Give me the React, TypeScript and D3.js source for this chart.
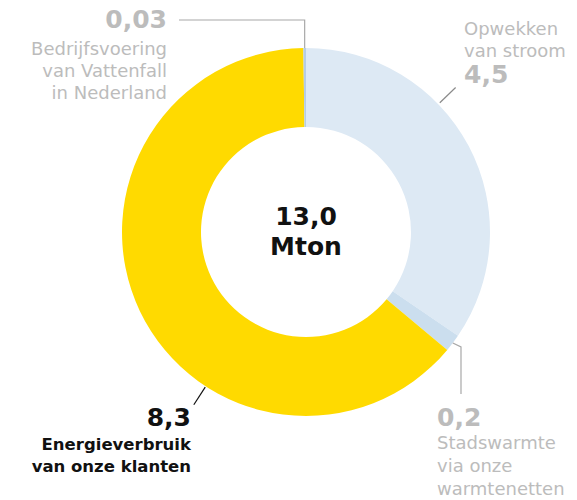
import { useRef, useEffect } from "react";
import * as d3 from "d3";

const WIDTH = 577;
const HEIGHT = 500;
const CX = 306;
const CY = 232;
const OUTER = 184;
const INNER = 105;

// data, clockwise from 12 o'clock
const categories = ["Opwekken van stroom", "Stadswarmte via onze warmtenetten", "Energieverbruik van onze klanten", "Bedrijfsvoering van Vattenfall in Nederland"];
const values = [4.5, 0.2, 8.3, 0.03];
const valueLabels = ["4,5", "0,2", "8,3", "0,03"];
const labelLines = [
  ["Opwekken", "van stroom"],
  ["Stadswarmte", "via onze", "warmtenetten"],
  ["Energieverbruik", "van onze klanten"],
  ["Bedrijfsvoering", "van Vattenfall", "in Nederland"],
];
const totalLabel = ["13,0", "Mton"];
const colors = ["#dde9f4", "#cbdeee", "#ffda00", "#b5cde4"];

const FONT = "'DejaVu Sans', sans-serif";
const GREY = "#bcbcbc";

export default function App() {
  const svgRef = useRef<SVGSVGElement>(null);

  useEffect(() => {
    const svg = d3.select(svgRef.current);
    svg.selectAll("*").remove();

    const rows = categories.map((c, i) => ({ key: c, value: values[i], label: valueLabels[i], lines: labelLines[i], color: colors[i] }));
    const pie = d3.pie<any>().sort(null).value(d => d.value).startAngle(0).endAngle(2 * Math.PI);
    const arcs = pie(rows);
    const arc = d3.arc<any>().innerRadius(INNER).outerRadius(OUTER);

    const g = svg.append("g").attr("transform", `translate(${CX},${CY})`);
    g.selectAll("path")
      .data(arcs)
      .join("path")
      .attr("d", arc)
      .attr("fill", d => d.data.color);

    // point on the ring at angle a (radians, 0 = top, clockwise)
    const pt = (a: number, r: number) => [CX + r * Math.sin(a), CY - r * Math.cos(a)];
    const mid = (d: any) => (d.startAngle + d.endAngle) / 2;
    const deg = (v: number) => (v * Math.PI) / 180;

    const lines = svg.append("g").attr("fill", "none").attr("stroke-width", 1.2);

    // 0,03 leader: up from the thin slice, then left
    const [ax, ay] = pt(mid(arcs[3]), OUTER);
    lines.append("path").attr("d", `M${ax},${ay}V20H179`).attr("stroke", "#a8a8a8");

    // 4,5 leader
    const [p1x, p1y] = pt(deg(46), OUTER + 2);
    const [p2x, p2y] = pt(deg(46), OUTER + 24);
    lines.append("path").attr("d", `M${p1x},${p1y}L${p2x},${p2y}`).attr("stroke", "#8a8a8a");

    // 0,2 leader
    const [sx, sy] = pt(mid(arcs[1]), OUTER);
    lines.append("path").attr("d", `M${sx},${sy}L461,${sy + 4}V394`).attr("stroke", "#a8a8a8");

    // 8,3 leader
    const [q1x, q1y] = pt(deg(213), OUTER + 1);
    const [q2x, q2y] = pt(deg(213), OUTER + 22);
    lines.append("path").attr("d", `M${q1x},${q1y}L${q2x},${q2y}`).attr("stroke", "#111");

    const text = (x: number, y: number, t: string, opts: { size: number; bold?: boolean; fill: string; anchor?: string }) =>
      svg.append("text")
        .attr("x", x)
        .attr("y", y)
        .attr("text-anchor", opts.anchor || "start")
        .style("font-family", FONT)
        .style("font-size", `${opts.size}px`)
        .style("font-weight", opts.bold ? 700 : 400)
        .style("fill", opts.fill)
        .text(t);

    // top-left
    text(167, 28, rows[3].label, { size: 25, bold: true, fill: GREY, anchor: "end" });
    rows[3].lines.forEach((t, i) => text(167, 55 + i * 22, t, { size: 18, fill: GREY, anchor: "end" }));

    // top-right
    rows[0].lines.forEach((t, i) => text(464, 35 + i * 22, t, { size: 18, fill: GREY }));
    text(464, 83, rows[0].label, { size: 25, bold: true, fill: GREY });

    // bottom-right
    text(437, 426, rows[1].label, { size: 25, bold: true, fill: GREY });
    rows[1].lines.forEach((t, i) => text(437, 449 + i * 23, t, { size: 18, fill: GREY }));

    // bottom-left
    text(191, 426, rows[2].label, { size: 25, bold: true, fill: "#111", anchor: "end" });
    rows[2].lines.forEach((t, i) => text(191, 450 + i * 22, t, { size: 16.5, bold: true, fill: "#111", anchor: "end" }));

    // centre
    text(CX, 225, totalLabel[0], { size: 25, bold: true, fill: "#111", anchor: "middle" });
    text(CX, 255, totalLabel[1], { size: 25, bold: true, fill: "#111", anchor: "middle" });
  }, []);

  return (
    <svg
      ref={svgRef}
      width={WIDTH}
      height={HEIGHT}
      style={{ position: "absolute", left: 0, top: 0, background: "#fff" }}
    />
  );
}
